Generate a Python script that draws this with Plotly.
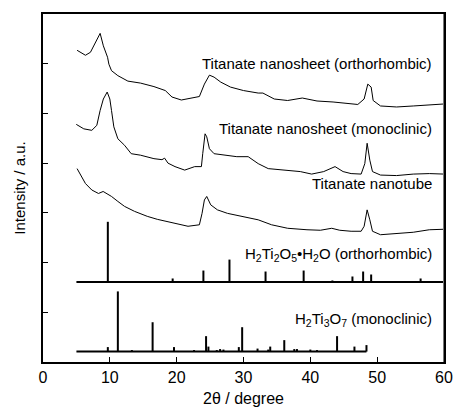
import plotly.graph_objects as go

# ---- measured curves ----
ortho_sheet_x = [5.1, 6.35, 7.1, 7.8, 8.55, 9.03, 9.66, 9.86, 10.25, 11.2, 12.7, 14.6, 16.6, 18.3, 19.3,
                 20.7, 22.4, 23.4, 24.15, 24.9, 25.6, 26.6, 28.05, 30.0, 32.2, 32.9, 34.6, 36.6, 38.8,
                 41.0, 43.4, 46.1, 47.1, 48.05, 48.6, 49.1, 49.4, 50.5, 52.9, 55.4, 60.0]
ortho_sheet_y = [6.27, 6.17, 6.23, 6.41, 6.61, 6.36, 6.13, 5.99, 5.86, 5.76, 5.65, 5.61, 5.54, 5.46, 5.33,
                 5.27, 5.31, 5.34, 5.59, 5.77, 5.73, 5.63, 5.53, 5.46, 5.41, 5.41, 5.29, 5.26, 5.31,
                 5.25, 5.23, 5.19, 5.18, 5.29, 5.59, 5.53, 5.26, 5.15, 5.13, 5.15, 5.19]

mono_sheet_x = [4.98, 6.1, 7.3, 8.05, 8.55, 9.03, 9.6, 10.0, 10.25, 10.6, 11.2, 12.2, 13.2, 14.6, 16.6,
                17.8, 18.2, 18.7, 19.75, 21.2, 22.7, 23.7, 23.9, 24.25, 24.5, 24.9, 25.6, 27.6, 29.0,
                30.7, 32.2, 33.7, 36.6, 38.5, 40.2, 42.0, 43.7, 44.9, 46.1, 47.6, 48.15, 48.5, 48.9,
                49.3, 50.5, 52.9, 55.4, 57.8, 60.0]
mono_sheet_y = [4.78, 4.69, 4.66, 4.76, 5.06, 5.29, 5.43, 5.29, 5.06, 4.73, 4.49, 4.36, 4.19, 4.16, 4.09,
                4.07, 4.10, 4.00, 3.93, 3.86, 3.93, 3.93, 4.19, 4.59, 4.53, 4.29, 4.19, 4.16, 4.13,
                4.13, 3.99, 3.89, 3.86, 3.83, 3.78, 3.83, 3.93, 3.83, 3.79, 3.78, 3.99, 4.40, 4.06,
                3.83, 3.76, 3.75, 3.78, 3.79, 3.78]

tube_x = [5.1, 5.6, 6.35, 7.3, 8.3, 9.0, 9.5, 10.25, 11.2, 12.2, 13.7, 15.6, 17.1, 18.3, 19.75, 21.7,
          23.4, 23.8, 24.15, 24.5, 25.1, 26.1, 27.6, 29.5, 32.2, 34.2, 36.6, 39.5, 41.5, 43.2, 44.4,
          46.1, 47.6, 48.05, 48.5, 48.9, 49.3, 50.5, 52.9, 55.4, 57.8, 60.0]
tube_y = [3.89, 3.76, 3.59, 3.46, 3.39, 3.43, 3.39, 3.33, 3.23, 3.13, 3.03, 2.93, 2.87, 2.83, 2.78, 2.73,
          2.76, 2.99, 3.26, 3.33, 3.16, 3.06, 2.99, 2.93, 2.86, 2.76, 2.69, 2.66, 2.65, 2.69, 2.65,
          2.63, 2.63, 2.73, 3.06, 2.86, 2.63, 2.56, 2.59, 2.61, 2.66, 2.67]

# ---- reference stick patterns ----
ortho_ref_base = 1.61
ortho_ref_range = [5.0, 60.0]
ortho_ref_pos = [9.7, 19.4, 24.0, 27.9, 33.3, 39.0, 43.3, 46.3, 47.9, 49.1, 55.1, 56.5]
ortho_ref_h = [1.21, 0.07, 0.23, 0.45, 0.21, 0.23, 0.03, 0.11, 0.21, 0.15, 0.02, 0.07]

mono_ref_base = 0.21
mono_ref_range = [5.0, 48.4]
mono_ref_pos = [9.7, 11.2, 13.3, 16.4, 19.6, 22.6, 24.4, 24.75, 26.0, 26.5, 27.0, 29.3, 29.8, 32.1,
                33.7, 34.0, 36.1, 37.6, 38.0, 40.0, 41.0, 44.0, 46.6, 48.4]
mono_ref_h = [0.09, 1.21, 0.03, 0.59, 0.09, 0.03, 0.31, 0.10, 0.03, 0.05, 0.04, 0.09, 0.49, 0.06,
              0.04, 0.10, 0.23, 0.05, 0.05, 0.04, 0.03, 0.31, 0.10, 0.13]

labels = ["Titanate nanosheet (orthorhombic)", "Titanate nanosheet (monoclinic)", "Titanate nanotube",
          "H<sub>2</sub>Ti<sub>2</sub>O<sub>5</sub>•H<sub>2</sub>O (orthorhombic)",
          "H<sub>2</sub>Ti<sub>3</sub>O<sub>7</sub> (monoclinic)"]
label_y = [6.0, 4.7, 3.6, 2.16, 0.85]

x_ticks = [0, 10, 20, 30, 40, 50, 60]

FONT = "Arial, Liberation Sans, sans-serif"

fig = go.Figure()
for xs, ys in [(ortho_sheet_x, ortho_sheet_y), (mono_sheet_x, mono_sheet_y), (tube_x, tube_y)]:
    fig.add_trace(go.Scatter(x=xs, y=ys, mode="lines", line=dict(color="black", width=1),
                             showlegend=False, hoverinfo="skip"))


def sticks(pos, h, base, rng):
    sx, sy = [rng[0], rng[1], None], [base, base, None]
    for p, hh in zip(pos, h):
        sx += [p, p, None]
        sy += [base, base + hh, None]
    return sx, sy


for pos, h, base, rng in [(ortho_ref_pos, ortho_ref_h, ortho_ref_base, ortho_ref_range),
                          (mono_ref_pos, mono_ref_h, mono_ref_base, mono_ref_range)]:
    sx, sy = sticks(pos, h, base, rng)
    fig.add_trace(go.Scatter(x=sx, y=sy, mode="lines", line=dict(color="black", width=2),
                             showlegend=False, hoverinfo="skip"))

for t, yy in zip(labels, label_y):
    fig.add_annotation(x=58.5, y=yy, text=t, showarrow=False, xanchor="right", yanchor="middle",
                       font=dict(family=FONT, size=15, color="black"))

fig.add_shape(type="line", xref="x", yref="paper", x0=60, x1=60, y0=0, y1=1,
              line=dict(color="#777777", width=2))

fig.update_layout(
    width=465, height=417,
    margin=dict(l=43, r=12, t=13, b=54),
    paper_bgcolor="white", plot_bgcolor="white",
    font=dict(family=FONT, color="black"),
)
fig.update_xaxes(range=[0, 60], tickvals=x_ticks, ticks="inside", ticklen=5, tickcolor="black",
                 showline=True, linecolor="black", linewidth=1.5, mirror=True, showgrid=False,
                 zeroline=False, tickfont=dict(family=FONT, size=16),
                 title=dict(text="2θ / degree", font=dict(family=FONT, size=16), standoff=8))
fig.update_yaxes(range=[0, 7], dtick=1, ticks="inside", ticklen=5, tickcolor="black",
                 showticklabels=False, showline=True, linecolor="black", linewidth=1.5, mirror=True,
                 showgrid=False, zeroline=False,
                 title=dict(text="Intensity / a.u.", font=dict(family=FONT, size=15), standoff=12))

fig.write_html("out.html")
